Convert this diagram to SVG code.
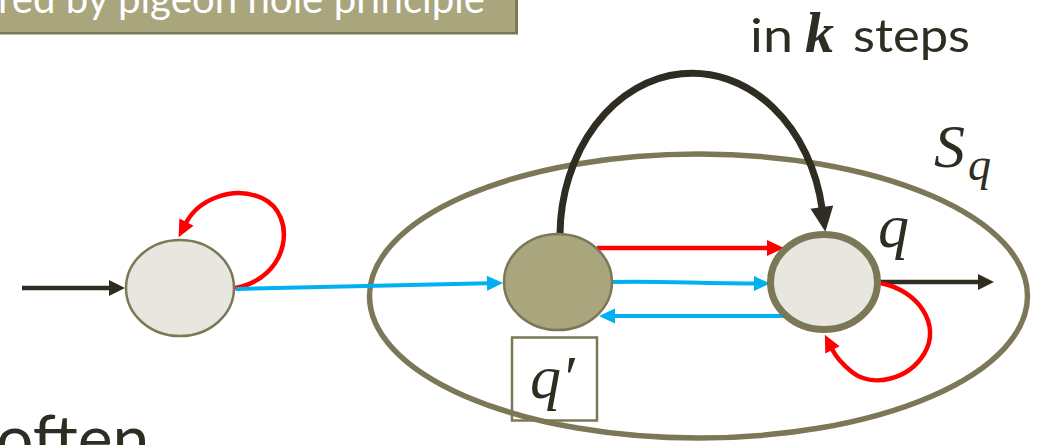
<svg xmlns="http://www.w3.org/2000/svg" width="1046" height="445" viewBox="0 0 1046 445">
<style>
.sans{font-family:Lato,"Liberation Sans",sans-serif;fill:#2F2C22}
.math{font-family:"Liberation Serif","DejaVu Serif",serif;font-style:italic;fill:#2F2C22}
.lightnode{fill:#E7E6DF;stroke:#7B7757}
.red{fill:none;stroke:#FF0000;stroke-width:4.5}
.blue{fill:none;stroke:#00B0F0;stroke-width:4}
.black{fill:none;stroke:#2F2C22;stroke-width:4.5}
</style>
<defs>
<marker id="aBlack" markerUnits="userSpaceOnUse" markerWidth="30" markerHeight="30" refX="1" refY="0" orient="auto" overflow="visible"><path d="M0,-8 L16,0 L0,8 z" fill="#2F2C22"/></marker>
<marker id="aBlue" markerUnits="userSpaceOnUse" markerWidth="30" markerHeight="30" refX="1" refY="0" orient="auto" overflow="visible"><path d="M0,-7.5 L16,0 L0,7.5 z" fill="#00B0F0"/></marker>
<marker id="aRed" markerUnits="userSpaceOnUse" markerWidth="30" markerHeight="30" refX="1" refY="0" orient="auto" overflow="visible"><path d="M0,-8 L17,0 L0,8 z" fill="#FF0000"/></marker>
<marker id="aBig" markerUnits="userSpaceOnUse" markerWidth="40" markerHeight="40" refX="1" refY="0" orient="auto" overflow="visible"><path d="M0,-11.5 L25,0 L0,11.5 z" fill="#2F2C22"/></marker>
</defs>
<rect width="1046" height="445" fill="#FFFFFF"/>
<g id="banner">
<rect x="-5" y="-10" width="523" height="44.5" fill="#7B7757"/>
<rect x="-5" y="-10" width="520" height="42" fill="#A9A57C"/>
<text x="-2" y="13" font-family="Lato,'Liberation Sans',sans-serif" font-size="40" fill="#FFFFFF" textLength="487" lengthAdjust="spacingAndGlyphs">red by pigeon hole principle</text>
</g>
<g id="label-steps">
<text class="sans" x="750" y="52" font-size="46" textLength="43" lengthAdjust="spacingAndGlyphs">in</text>
<text x="805" y="52" font-family="'Liberation Serif','DejaVu Serif',serif" font-style="italic" font-weight="bold" font-size="58" fill="#2F2C22">k</text>
<text class="sans" x="853" y="52" font-size="46" textLength="117" lengthAdjust="spacingAndGlyphs">steps</text>
</g>
<g id="set-Sq">
<ellipse cx="698.5" cy="296" rx="329" ry="142" fill="none" stroke="#7B7757" stroke-width="5.5"/>
<text class="math" x="934" y="167" font-size="62">S</text>
<text class="math" x="968" y="180" font-size="46">q</text>
</g>
<g id="connectors">
<line class="black" x1="22" y1="288" x2="110" y2="288" marker-end="url(#aBlack)"/>
<path class="red" d="M235,288 C290,278 298,215 262,198 C232,185 198,200 186,223" marker-end="url(#aRed)"/>
<path class="blue" d="M236,289 L488,283.3" marker-end="url(#aBlue)"/>
<path class="red" d="M597,248 L768,248" marker-end="url(#aRed)"/>
<path class="blue" d="M612,282 C660,281 700,283.5 755,283.5" marker-end="url(#aBlue)"/>
<path class="blue" d="M787,316 L614,316" marker-end="url(#aBlue)"/>
<path fill="none" stroke="#2F2C22" stroke-width="7" d="M560,234 A132,163 0 0 1 822,208" marker-end="url(#aBig)"/>
<line class="black" x1="880" y1="282" x2="979" y2="282" marker-end="url(#aBlack)"/>
<path class="red" d="M880,283 C918,290 942,325 924,354 C908,380 872,388 852,372 C842,364 836,357 832,349" marker-end="url(#aRed)"/>
</g>
<g id="node-start">
<ellipse class="lightnode" cx="180" cy="288" rx="54" ry="48" stroke-width="2.5"/>
</g>
<g id="node-qprime">
<ellipse cx="558" cy="282" rx="54" ry="48" fill="#A9A57C" stroke="#7B7757" stroke-width="2.5"/>
<rect x="512" y="337.5" width="85" height="83" fill="none" stroke="#7B7757" stroke-width="2.5"/>
<text class="math" x="530" y="398" font-size="62">q′</text>
</g>
<g id="node-q">
<ellipse class="lightnode" cx="824" cy="282" rx="53.5" ry="47.5" stroke-width="7"/>
<text class="math" x="878" y="247" font-size="62">q</text>
</g>
<g id="text-often">
<text class="sans" x="-4" y="462" font-size="66">often</text>
</g>
</svg>
